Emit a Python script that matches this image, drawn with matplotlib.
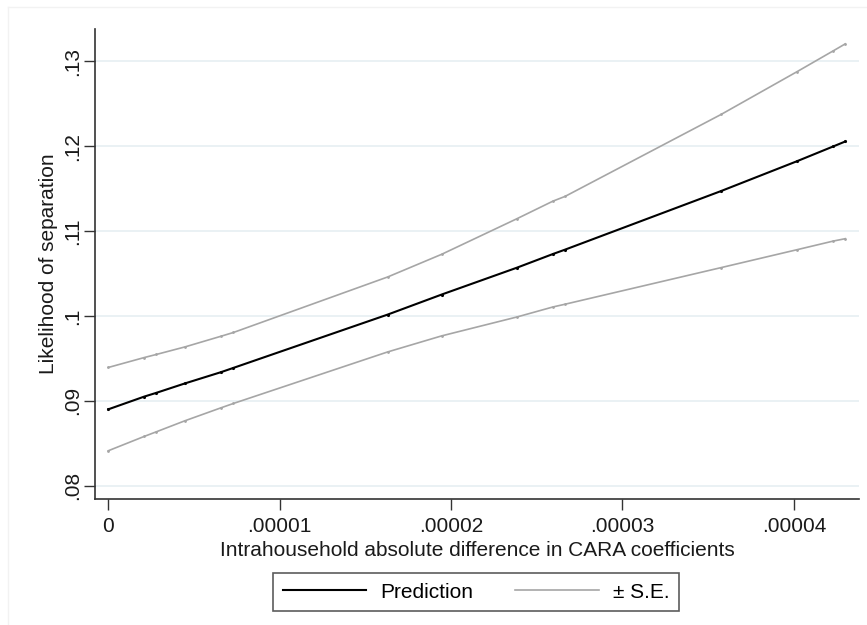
import numpy as np
import matplotlib
matplotlib.use("Agg")
import matplotlib.pyplot as plt
from matplotlib.lines import Line2D

# Datos
cara_diff = [0.0, 0.21e-5, 0.28e-5, 0.447e-5, 0.658e-5, 0.73e-5, 1.63e-5, 1.945e-5,
             2.385e-5, 2.595e-5, 2.665e-5, 3.575e-5, 4.02e-5, 4.23e-5, 4.30e-5]
prediction = [0.0890, 0.0905, 0.09094, 0.09205, 0.09338, 0.09388, 0.10016, 0.10252,
              0.10569, 0.1073, 0.10781, 0.11471, 0.11824, 0.11997, 0.12055]
upper_se = [0.09393, 0.0951, 0.09546, 0.09635, 0.09761, 0.09805, 0.10459, 0.10726,
            0.11146, 0.11353, 0.11408, 0.12373, 0.12879, 0.13123, 0.13205]
lower_se = [0.08412, 0.08581, 0.08635, 0.08765, 0.08918, 0.08969, 0.09576, 0.09765,
            0.09988, 0.10106, 0.10138, 0.10569, 0.10781, 0.10882, 0.1091]

x_ticks = [0, 0.00001, 0.00002, 0.00003, 0.00004]
x_tick_labels = ["0", ".00001", ".00002", ".00003", ".00004"]
y_ticks = [0.08, 0.09, 0.10, 0.11, 0.12, 0.13]
y_tick_labels = [".08", ".09", ".1", ".11", ".12", ".13"]

plt.rcParams['font.family'] = ['Liberation Sans', 'DejaVu Sans']

fig = plt.figure(figsize=(8.67, 6.25), dpi=100)
fig.patch.set_facecolor("white")

# borde muy suave del area del grafico (estilo Stata)
fig.add_artist(Line2D([8 / 867, 1], [1 - 7 / 625, 1 - 7 / 625], color="#f2f2f2", lw=1))
fig.add_artist(Line2D([8 / 867, 8 / 867], [0, 1 - 7 / 625], color="#f2f2f2", lw=1))

ax = fig.add_axes([95 / 867, 1 - 499.3 / 625, (859 - 95) / 867, (499.3 - 29) / 625])

gris = "#a6a6a6"
ax.plot(cara_diff, upper_se, color=gris, lw=1.2, marker=".", ms=2, zorder=3)
ax.plot(cara_diff, lower_se, color=gris, lw=1.2, marker=".", ms=2, zorder=3)
ax.plot(cara_diff, prediction, color="black", lw=1.5, marker=".", ms=2.5, zorder=4)

ax.set_xlim(-7.76e-7, 4.38e-5)
ax.set_ylim(0.0784, 0.1338)

ax.set_xticks(x_ticks)
ax.set_xticklabels(x_tick_labels, fontsize=15)
ax.set_yticks(y_ticks)
ax.set_yticklabels(y_tick_labels, fontsize=15, rotation=90, va="center")

ax.tick_params(axis="both", length=8, width=1, color="#333333", labelcolor="#1a1a1a")
ax.tick_params(axis="x", pad=5)
ax.tick_params(axis="y", pad=1)

ax.grid(axis="y", color="#e6eff2", lw=1.2)
ax.set_axisbelow(True)

for lado in ["top", "right"]:
    ax.spines[lado].set_visible(False)
for lado in ["left", "bottom"]:
    ax.spines[lado].set_color("#333333")
    ax.spines[lado].set_linewidth(1.2)

ax.set_xlabel("Intrahousehold absolute difference in CARA coefficients", fontsize=15,
              color="#1a1a1a", labelpad=3)
ax.set_ylabel("Likelihood of separation", fontsize=15, color="#1a1a1a", labelpad=4)

handles = [Line2D([], [], color="black", lw=1.5), Line2D([], [], color=gris, lw=1.2)]
leg = fig.legend(handles, ["Prediction", "± S.E."], loc="center",
                 bbox_to_anchor=(476.2 / 867, 1 - 592 / 625), ncol=2, fontsize=15,
                 frameon=True, fancybox=False, handlelength=4.0, handletextpad=0.7,
                 columnspacing=2.0, borderpad=0.45)
leg.get_frame().set_edgecolor("#333333")
leg.get_frame().set_linewidth(1.2)

fig.savefig("out.png", dpi=100)
